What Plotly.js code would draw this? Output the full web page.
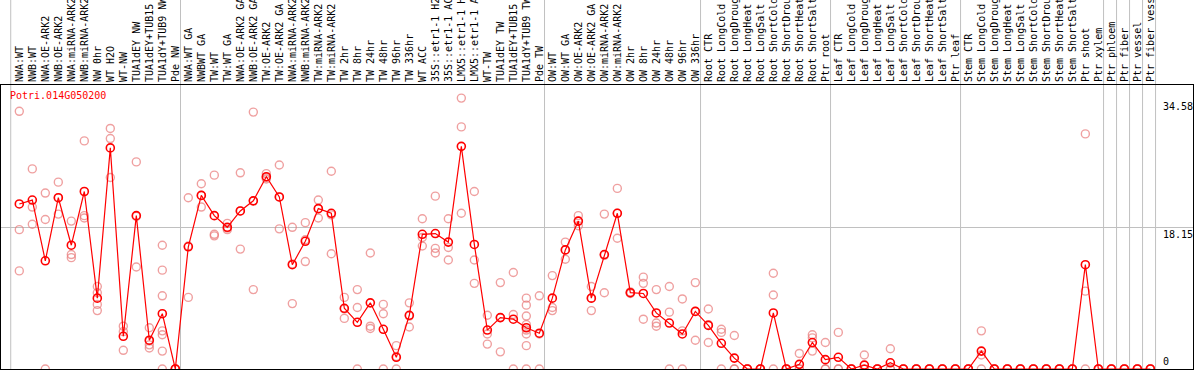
<!DOCTYPE html>
<html><head><meta charset="utf-8">
<script src="https://cdn.plot.ly/plotly-3.0.1.min.js"></script>
<style>html,body{margin:0;padding:0;background:#fff;overflow:hidden}#chart{width:1194px;height:370px}</style>
</head><body><div id="chart"></div>
<script>
const geneId = "Potri.014G050200";

const labels = [
  "NWA:WT","NWB:WT","NWA:OE-ARK2","NWB:OE-ARK2","NWA:miRNA-ARK2","NWB:miRNA-ARK2","NW 0hr","WT H2O","WT-NW","TUA1dEY NW","TUA1dEY+TUB15","TUA1dY+TUB9 NW","Pde NW",
  "NWA:WT GA","NWBWT GA","TW:WT","TW:WT GA","NWA:OE-ARK2 GA","NWB:OE-ARK2 GA","TW:OE-ARK2","TW:OE-ARK2 GA","NWA:miRNA-ARK2","NWB:miRNA-ARK2","TW:miRNA-ARK2","TW:miRNA-ARK2","TW 2hr","TW 8hr","TW 24hr","TW 48hr","TW 96hr","TW 336hr","WT ACC","35S::etr1-1 H2O","35S::etr1-1 ACC","LMX5::etr1-1 H2O","LMX5::etr1-1 ACC","WT-TW","TUA1dEY TW","TUA1dEY+TUB15","TUA1dY+TUB9 TW","Pde TW",
  "OW:WT","OW:WT GA","OW:OE-ARK2","OW:OE-ARK2 GA","OW:miRNA-ARK2","OW:miRNA-ARK2","OW 2hr","OW 8hr","OW 24hr","OW 48hr","OW 96hr","OW 336hr",
  "Root CTR","Root LongCold","Root LongDrought","Root LongHeat","Root LongSalt","Root ShortCold","Root ShortDrought","Root ShortHeat","Root ShortSalt","Ptr root",
  "Leaf CTR","Leaf LongCold","Leaf LongDrought","Leaf LongHeat","Leaf LongSalt","Leaf ShortCold","Leaf ShortDrought","Leaf ShortHeat","Leaf ShortSalt","Ptr leaf",
  "Stem CTR","Stem LongCold","Stem LongDrought","Stem LongHeat","Stem LongSalt","Stem ShortCold","Stem ShortDrought","Stem ShortHeat","Stem ShortSalt","Ptr shoot","Ptr xylem","Ptr phloem","Ptr fiber","Ptr vessel","Ptr fiber vessel"
];

const meanExpr = [
  21.2,21.7,13.9,22.0,15.9,22.8,9.1,28.4,4.2,19.7,3.7,7.1,0,
  15.7,22.3,19.7,18.2,20.3,21.6,24.7,22.1,13.4,16.4,20.6,20.0,7.8,6.0,8.5,5.1,1.5,6.9,17.3,17.4,16.3,28.6,16.0,5.0,6.6,6.4,5.3,4.6,
  9.1,15.3,19.0,9.1,14.7,20.0,9.8,9.7,7.2,5.9,4.5,7.4,
  5.6,3.3,1.4,0,0,7.2,0,0.6,3.4,1.2,
  1.5,0,0.5,0,0.8,0,0,0,0,0,
  0,2.3,0,0,0,0,0,0,0,13.4,0,0,0,0,0
];

const replicates = [
  [33.1,17.9,12.6],[25.7,20.8,18.6],[22.6,19.2,0],[24.0,19.9,22.0],[19.0,14.7,14.3],[29.3,19.7,19.4],[10.6,9.8,8.3,7.5],[30.9,29.6,24.6],[5.5,2.4,4.8],[26.6,13.1,19.6],[5.3,3.6,3.1,2.7],[15.9,12.7,9.4,4.9,4.4,2.3,0],[0,0,0],
  [22.0,9.2,15.8],[23.8,20.8,22.3],[24.9,17.3,17.1],[18.7,17.9,18.1],[25.2,15.4,20.3],[33.0,10.2,21.6],[25.1,24.4,24.6],[26.2,18.0,22.1],[18.2,8.4,13.5],[18.8,13.8,16.6],[21.7,19.4,20.6],[25.4,14.8,19.8],[9.2,6.5,7.7],[10.2,7.9,0],[14.9,5.5,5.2],[8.3,7.1,0],[3.0,0,1.6],[8.5,5.4,6.8],[19.3,15.8,16.9],[22.2,15.5,14.9],[19.3,15.6,14.0],[34.8,31.1,20.0],[22.8,14.0,11.0],[6.9,4.5,3.2],[11.1,2.2,6.6],[12.4,7.0,0],[9.1,8.2,6.8,5.7,5.0,4.5,3.0,0],[9.4,0,4.5],
  [12.0,7.9,7.5],[16.3,14.1,15.3],[19.7,18.4,19.0],[10.6,7.5,9.1],[19.9,9.8,14.6],[23.2,16.8,20.0],[9.9,9.8,9.7],[11.8,11.0,6.4],[10.2,5.9,5.5],[10.6,7.3,0],[9.0,4.9,0],[11.1,3.7,7.4],
  [7.7,3.4,5.7],[5.1,4.7,0],[4.3,0,0],[0,0,0],[0,0,0],[12.3,9.5,0],[0,0,0],[2.0,0,0],[4.4,4.0,2.3],[3.4,0,0],
  [4.7,0,0],[0,0,0],[1.8,0,0],[0,0,0],[2.6,0,0],[0,0,0],[0,0,0],[0,0,0],[0,0,0],[0,0,0],
  [0,0,0],[4.9,1.8,0],[0,0,0],[0,0,0],[0,0,0],[0,0,0],[0,0,0],[0,0,0],[0,0,0],[30.2,10.0,0],[0,0,0],[0,0,0],[0,0,0],[0,0,0],[0,0,0]
];

const groupLastIndex = [12, 40, 52, 62, 72, 83, 84, 85, 86, 87];
const yTickVals = [0, 18.15, 34.58];
const yTickText = ["0", "18.15", "34.58"];

const idx = labels.map((_, i) => i);
const repX = [], repY = [];
replicates.forEach((vals, i) => vals.forEach(v => { repX.push(i); repY.push(v); }));

const mono = "DejaVu Sans Mono, monospace";
const W = 1194, H = 370, ml = 1, mr = 1, mt = 85, mb = 1;
const plotW = W - ml - mr, plotH = H - mt - mb;

const traces = [
  {x: repX, y: repY, type: "scatter", mode: "markers", hoverinfo: "skip",
   marker: {symbol: "circle-open", size: 8, color: "rgba(232,120,120,0.7)", line: {width: 1.4, color: "rgba(232,120,120,0.7)"}}},
  {x: idx, y: meanExpr, type: "scatter", mode: "lines+markers",
   line: {color: "#ff0000", width: 1.2},
   marker: {symbol: "circle-open", size: 8, color: "#ff0000", line: {width: 1.6, color: "#ff0000"}}}
];

const shapes = [-1.06].concat(groupLastIndex).map(g => ({
  type: "line", xref: "x", yref: "paper", x0: g + 0.4, x1: g + 0.4, y0: 0, y1: 1 + mt / plotH,
  line: {color: "#c0c0c0", width: 1}, layer: "below"
}));

const annotations = [
  {text: geneId, xref: "paper", yref: "paper", x: 7 / plotW, y: 1, xanchor: "left", yanchor: "top", yshift: -3,
   showarrow: false, font: {family: mono, size: 10, color: "#ff0000"}}
].concat(yTickVals.map((v, k) => ({
  text: yTickText[k], xref: "paper", yref: "y", x: (1161 - ml) / plotW, y: v,
  xanchor: "left", yanchor: v === 0 ? "bottom" : "top", yshift: v === 0 ? 0 : 1, showarrow: false,
  font: {family: mono, size: 10, color: "#000"}
})));

const layout = {
  width: W, height: H,
  margin: {l: ml, r: mr, t: mt, b: mb, pad: 0},
  paper_bgcolor: "#fff", plot_bgcolor: "#fff",
  showlegend: false,
  xaxis: {
    range: [-1.408, 90.28], side: "top", tickmode: "array", tickvals: idx, ticktext: labels,
    tickangle: -90, tickfont: {family: mono, size: 10, color: "#000"}, ticks: "",
    showgrid: false, zeroline: false, showline: true, mirror: true, linecolor: "#000", linewidth: 1,
    automargin: false
  },
  yaxis: {
    range: [0, 36.48], tickmode: "array", tickvals: [18.15], showticklabels: false, ticks: "",
    showgrid: true, gridcolor: "#c0c0c0", gridwidth: 1, zeroline: false,
    showline: true, mirror: true, linecolor: "#000", linewidth: 1, automargin: false
  },
  shapes: shapes,
  annotations: annotations
};

Plotly.newPlot("chart", traces, layout, {staticPlot: true, displayModeBar: false});
</script>
</body></html>
